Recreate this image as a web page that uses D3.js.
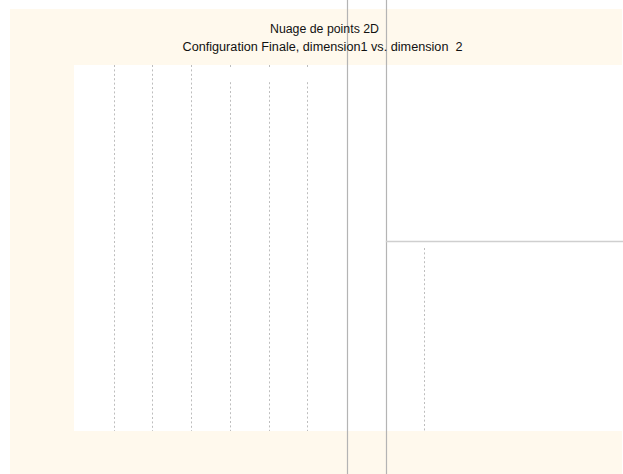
<!DOCTYPE html>
<html>
<head>
<meta charset="utf-8">
<script src="https://cdn.jsdelivr.net/npm/d3@7"></script>
<style>
  html, body { margin: 0; padding: 0; background: #ffffff; }
  svg { display: block; }
  text { white-space: pre; }
</style>
</head>
<body>
<svg id="chart" width="623" height="474"></svg>
<script>
// Titles
const titleMain = "Nuage de points 2D";
const titleSub = "Configuration Finale, dimension1 vs. dimension  2";

// Scale domains (dimension 1 horizontal, dimension 2 vertical)
const xDomain = [-1.405, 1.43];
const yDomain = [-1.04, 0.96];

// Full-height dashed grid lines on dimension 1
const xGridFull = [-1.2, -1.0, -0.8];
// Grid lines with a break near the top: [x, breakStart, breakEnd] in dimension 2 units
const xGridBroken = [[-0.6, 0.944, 0.866], [-0.4, 0.944, 0.866], [-0.2, 0.944, 0.866]];
// Grid line drawn only below the horizontal axis
const xGridLower = [[0.4, -0.04]];

// Solid reference lines
const xRefLines = [0.0, 0.2];      // vertical, spanning the whole figure
const yRefLine = { y: 0.0, xFrom: 0.2 }; // horizontal, to the right edge

const W = 623, H = 474;
const plot = { left: 74, top: 65, right: 623, bottom: 431 };

const svg = d3.select("#chart");

// Frame background
svg.append("rect")
  .attr("x", 10).attr("y", 9)
  .attr("width", 612).attr("height", H - 9)
  .attr("fill", "#fff9ed");

// Plot area
svg.append("rect")
  .attr("x", plot.left).attr("y", plot.top)
  .attr("width", plot.right - plot.left).attr("height", plot.bottom - plot.top)
  .attr("fill", "#ffffff");

const x = d3.scaleLinear().domain(xDomain).range([plot.left, plot.right]);
const y = d3.scaleLinear().domain(yDomain).range([plot.bottom, plot.top]);

// Dashed grid segments
const segs = [];
xGridFull.forEach(v => segs.push({ x: v, y1: yDomain[1], y2: yDomain[0] }));
xGridBroken.forEach(([v, a, b]) => {
  segs.push({ x: v, y1: yDomain[1], y2: a });
  segs.push({ x: v, y1: b, y2: yDomain[0] });
});
xGridLower.forEach(([v, a]) => segs.push({ x: v, y1: a, y2: yDomain[0] }));

svg.append("g").attr("class", "grid")
  .selectAll("line").data(segs).join("line")
  .attr("x1", d => Math.round(x(d.x)) + 0.5)
  .attr("x2", d => Math.round(x(d.x)) + 0.5)
  .attr("y1", d => y(d.y1))
  .attr("y2", d => y(d.y2))
  .attr("stroke", "#bdbdbd")
  .attr("stroke-width", 1)
  .attr("stroke-dasharray", "2,2.4");

// Solid reference lines
svg.append("g").attr("class", "ref-v")
  .selectAll("line").data(xRefLines).join("line")
  .attr("x1", d => Math.round(x(d)) + 1.5)
  .attr("x2", d => Math.round(x(d)) + 1.5)
  .attr("y1", 0).attr("y2", H)
  .attr("stroke", "#b4b4b4")
  .attr("stroke-width", 1.2);

svg.append("line")
  .attr("x1", x(yRefLine.xFrom) + 1).attr("x2", W)
  .attr("y1", Math.round(y(yRefLine.y)) + 0.5)
  .attr("y2", Math.round(y(yRefLine.y)) + 0.5)
  .attr("stroke", "#cfcfcf")
  .attr("stroke-width", 1.5);

// Titles
svg.append("text")
  .attr("x", 270).attr("y", 32.5)
  .attr("textLength", 109).attr("lengthAdjust", "spacingAndGlyphs")
  .attr("font-family", "Liberation Sans, Arial, sans-serif")
  .attr("font-size", 12)
  .attr("fill", "#111")
  .text(titleMain);

svg.append("text")
  .attr("x", 182.5).attr("y", 50.5)
  .attr("textLength", 280).attr("lengthAdjust", "spacingAndGlyphs")
  .attr("font-family", "Liberation Sans, Arial, sans-serif")
  .attr("font-size", 12)
  .attr("fill", "#111")
  .text(titleSub);
</script>
</body>
</html>
